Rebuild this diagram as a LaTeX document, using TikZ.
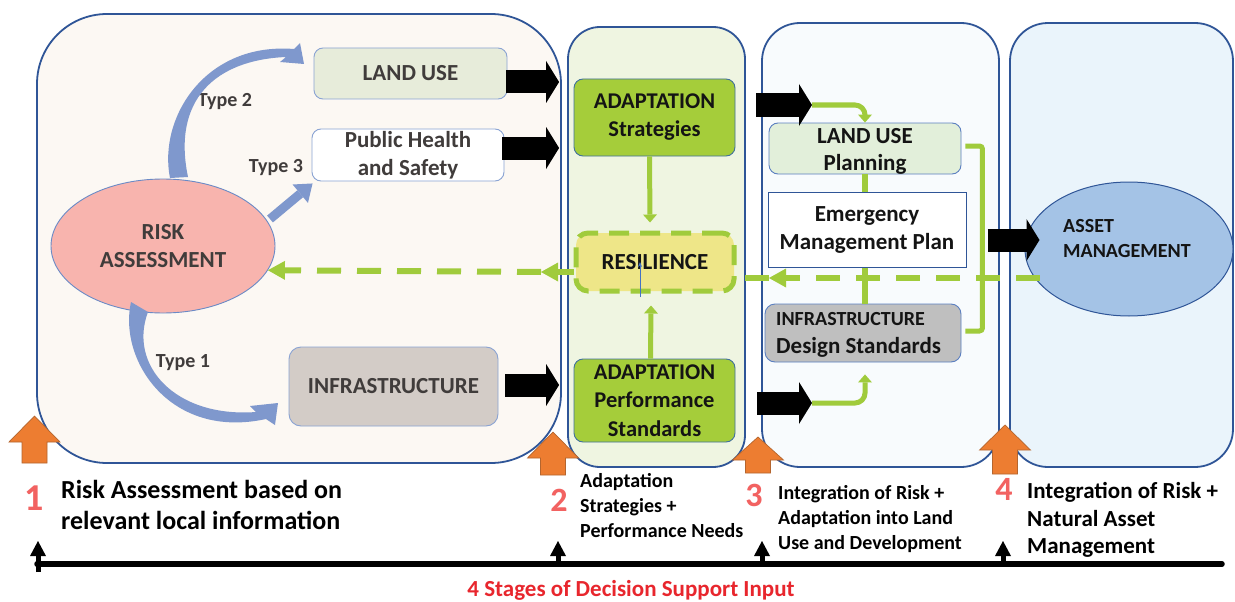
\documentclass[tikz,border=0pt]{standalone}
\usepackage{fontspec}
\setmainfont{Carlito}
\usetikzlibrary{arrows.meta,shapes.geometric,calc}
\definecolor{pborder}{HTML}{2F5597}
\definecolor{p1fill}{HTML}{FCF8F3}
\definecolor{p2fill}{HTML}{EFF5E1}
\definecolor{p3fill}{HTML}{F8FBFD}
\definecolor{p4fill}{HTML}{EAF4FB}
\definecolor{bxline}{HTML}{8AA3D3}
\definecolor{bxline2}{HTML}{5B7FC0}
\definecolor{gbxline}{HTML}{41719C}
\definecolor{lufill}{HTML}{E7ECDA}
\definecolor{infill}{HTML}{D3CCC7}
\definecolor{riskfill}{HTML}{F8B4AE}
\definecolor{riskline}{HTML}{6A8AC6}
\definecolor{gfill}{HTML}{A5CD3A}
\definecolor{gline}{HTML}{A0CB3C}
\definecolor{resfill}{HTML}{EEE688}
\definecolor{lupfill}{HTML}{E2EFDA}
\definecolor{idsfill}{HTML}{BFBFBF}
\definecolor{assetfill}{HTML}{A4C3E6}
\definecolor{orng}{HTML}{ED7D31}
\definecolor{orngline}{HTML}{B4652E}
\definecolor{numred}{HTML}{F26261}
\definecolor{titred}{HTML}{E8262D}
\definecolor{txtgray}{HTML}{403C3B}
\definecolor{txtdark}{HTML}{141414}
\definecolor{curveblue}{HTML}{7F98CD}
\definecolor{cursorblue}{HTML}{4472C4}
\newcommand\uparr[4]{\filldraw[orangearr] (#1-25.5,#3) -- (#1,#2) -- (#1+25.5,#3) -- (#1+12.5,#3) -- (#1+12.5,#4) -- (#1-12.5,#4) -- (#1-12.5,#3) -- cycle;}
\begin{document}
\begin{tikzpicture}[x=1pt,y=-1pt]
\tikzset{
  fs/.style n args={2}{font=\bfseries\fontsize{#1pt}{#2pt}\selectfont},
  panel/.style={draw=pborder, line width=1.8pt, inner sep=0pt},
  sbox/.style={draw=bxline, line width=0.9pt, rounded corners=9pt, inner sep=0pt, align=center},
  txt/.style={inner sep=0pt, align=center},
  grn/.style={draw=gline, line width=5pt},
  gtip/.style={-{Triangle[length=8pt,width=14pt,line width=0pt]}},
  dsh/.style={draw=gline, line width=6pt, dash pattern=on 24pt off 16pt},
  dtip/.style={-{Triangle[length=17pt,width=19pt,line width=0pt]}},
  blk/.style={draw=black, line width=23pt, -{Triangle[length=13pt,width=42pt,line width=0pt]}},
  orangearr/.style={fill=orng, draw=orngline, line width=0.7pt},
  tick/.style={draw=black, line width=5pt, -{Triangle[length=15pt,width=16pt,line width=0pt]}},
  cursorline/.style={draw=cursorblue, line width=1pt, -{Stealth[length=5pt,width=4pt]}}
}
\useasboundingbox (0,0) rectangle (1235,602);
\fill[white] (0,0) rectangle (1235,602);

% panels
\node[panel, fill=p1fill, rounded corners=70pt, minimum width=524pt, minimum height=449pt] (P1) at (299,238.5) {};
\node[panel, fill=p2fill, rounded corners=32pt, minimum width=177pt, minimum height=440pt] (P2) at (656.5,247) {};
\node[panel, fill=p3fill, rounded corners=38pt, minimum width=237pt, minimum height=444pt] (P3) at (880.5,245) {};
\node[panel, fill=p4fill, rounded corners=38pt, minimum width=223pt, minimum height=444pt] (P4) at (1121.5,245) {};

% panel 1 content
\node[sbox, fill=lufill, text=txtgray, fs={23}{28}, minimum width=193pt, minimum height=51pt] (LU) at (410.5,73.5) {LAND USE};
\node[sbox, fill=white, text=txtgray, fs={23}{28}, minimum width=192pt, minimum height=52pt] (PHS) at (408,155) {Public Health\\and Safety};
\node[ellipse, draw=riskline, line width=0.9pt, fill=riskfill, text=txtgray, fs={23}{28}, align=center, minimum width=224pt, minimum height=134pt, inner sep=0pt] (RISK) at (163,246) {RISK\\ASSESSMENT};
\node[sbox, fill=infill, rounded corners=12pt, text=txtgray, fs={23}{28}, minimum width=209pt, minimum height=79pt] (INF) at (393.5,386.5) {INFRASTRUCTURE};

\node[txt, fs={20}{24}, text=txtgray] (T2) at (225,102) {Type 2};
\node[txt, fs={20}{24}, text=txtgray] (T3) at (276,168) {Type 3};
\node[txt, fs={20}{24}, text=txtgray] (T1) at (183,363) {Type 1};

% curved blue arrows
\fill[curveblue] (170,178) .. controls (158,118) and (205,42) .. (294,49) -- (300,43) -- (304,64) -- (280,62) -- (286,57) .. controls (215,60) and (172,100) .. (188,177) -- cycle;
\fill[curveblue] (131,302) .. controls (118,360) and (170,440) .. (266,419) -- (275,425) -- (278,403) -- (250,406) -- (256,412) .. controls (175,418) and (128,365) .. (148,312) -- cycle;
\draw[curveblue, line width=9pt, -{Triangle[length=16pt,width=24pt,line width=0pt]}] (270,219) -- ($(PHS.south west)+(1,2)$);

% panel 2 content
\node[sbox, draw=gbxline, fill=gfill, text=txtdark, fs={22.5}{28}, minimum width=161pt, minimum height=77pt] (AS) at (654.5,117.5) {ADAPTATION\\Strategies};
\node[draw=gline, dash pattern=on 20pt off 11pt, line width=5pt, fill=resfill, rounded corners=12pt, minimum width=158pt, minimum height=58pt, inner sep=0pt, fs={23}{28}, text=txtdark] (RES) at (655,262) {RESILIENCE};
\node[sbox, draw=gbxline, fill=gfill, text=txtdark, fs={22.5}{28.5}, minimum width=161pt, minimum height=83pt] (AP) at (654.5,400.5) {ADAPTATION\\Performance\\Standards};
\draw[grn, gtip] ($(AS.south)+(-5,0)$) -- ($(RES.north)+(-5,-8)$);
\draw[grn, gtip] ($(AP.north)+(-4,0)$) -- ($(RES.south)+(-4,12)$);
\draw[cursorline] ($(RES.center)+(-15,35)$) -- ($(RES.center)+(-15,0)$);

% panel 3 content
\node[sbox, draw=bxline2, fill=lupfill, minimum width=192pt, minimum height=51pt] (LUP) at (865,148.5) {};
\node[txt, fs={23}{27}, text=txtdark] (LUPt) at (865,151.5) {LAND USE\\Planning};
\node[draw=pborder, line width=1pt, fill=white, minimum width=198pt, minimum height=75pt, inner sep=0pt, align=center, fs={23}{28}, text=txtdark] (EMP) at (867,229.5) {Emergency\\Management Plan};
\node[sbox, draw=bxline2, fill=idsfill, rounded corners=10pt, minimum width=196pt, minimum height=58pt] (IDS) at (863,333) {};
\node[txt, anchor=west, align=left, fs={23}{28}, text=txtdark] (IDSt) at (776,334.5) {{\fontsize{20pt}{24pt}\selectfont INFRASTRUCTURE}\\Design Standards};

% panel 4 content
\node[ellipse, draw=pborder, line width=1pt, fill=assetfill, minimum width=208pt, minimum height=134pt, inner sep=0pt] (AM) at (1129,249) {};
\node[txt, anchor=west, align=left, fs={20}{25}, text=txtdark] (AMt) at (1063,239) {ASSET\\MANAGEMENT};

% green connectors in panel 3
\coordinate (c1) at (812,105);
\coordinate (c2) at (812,403);
\draw[grn, gtip, rounded corners=10pt] (c1) -- (c1 -| LUP.north) -- (LUP.north);
\draw[grn, line width=6pt] (LUP.south) -- (LUP.south |- EMP.north);
\draw[grn, line width=6pt] (LUP.south |- EMP.south) -- (LUP.south |- IDS.north);
\draw[grn, gtip, rounded corners=10pt] (c2) -- (c2 -| LUP.south) -- ($(LUP.south |- IDS.south)+(0,12)$);
\draw[grn, rounded corners=3pt] ($(LUP.east)+(4,-2.5)$) -- ($(LUP.east)+(21,-2.5)$) -- ($(IDS.east)+(21,-2)$) -- ($(IDS.east)+(4,-2)$);

% dashed feedback connectors
\coordinate (dA) at (541,272);
\coordinate (dC) at (769,278);
\draw[dsh, dtip] (RES.west |- dA) -- (dA);
\draw[dsh, dtip] (dA) -- (RISK.-13);
\draw[dsh, dtip] ($(AM.west |- dC)+(15,0)$) -- (dC);
\draw[dsh] (dC) -- (RES.east |- dC);

% black block arrows
\draw[blk] ($(LU.east)+(-1,8.5)$) -- ($(P2.west |- LU.east)+(-8,8.5)$);
\draw[blk] ($(PHS.east)+(-2,-7)$) -- ($(P2.west |- PHS.east)+(-8,-7)$);
\draw[blk] ($(INF.east)+(7,-1.5)$) -- ($(P2.west |- INF.east)+(-8,-1.5)$);
\draw[blk] ($(P3.west |- c1)+(-5,0)$) -- (c1);
\draw[blk] ($(P3.west |- c2)+(-4,0)$) -- (c2);
\draw[blk] ($(EMP.east)+(21,10.5)$) -- ($(AM.west)+(15,-9)$);

% orange stage arrows
\uparr{34.5}{416}{442}{463}
\uparr{553}{432}{458}{475}
\uparr{758}{437}{460}{473}
\uparr{1005}{425}{450}{474}

% timeline
\draw[line width=5.5pt, line cap=round] (37,564) -- (1222,564);
\coordinate (t1) at (38,541);
\coordinate (t2) at (558,541);
\coordinate (t3) at (762,541);
\coordinate (t4) at (1003,541);
\draw[tick] (38,572) -- (t1);
\draw[tick] (558,564) -- (t2);
\draw[tick] (762,564) -- (t3);
\draw[tick] (1003,564) -- (t4);

% stage labels
\node[txt, fs={38}{38}, text=numred] (n1) at (34.5,498) {1};
\node[txt, fs={34}{34}, text=numred] (n2) at (559,500) {2};
\node[txt, fs={34}{34}, text=numred] (n3) at (754,495) {3};
\node[txt, fs={34}{34}, text=numred] (n4) at (1004,489) {4};
\node[txt, anchor=west, align=left, fs={26}{31}, text=black] (L1) at (61,505) {Risk Assessment based on\\relevant local information};
\node[txt, anchor=west, align=left, fs={20}{25}, text=black] (L2) at (580,506) {Adaptation\\Strategies +\\Performance Needs};
\node[txt, anchor=west, align=left, fs={20}{25}, text=black] (L3) at (778,519) {Integration of Risk +\\Adaptation into Land\\Use and Development};
\node[txt, anchor=west, align=left, fs={23}{27.5}, text=black] (L4) at (1027,520) {Integration of Risk +\\Natural Asset\\Management};
\node[txt, fs={23}{28}, text=titred] (title) at (631,590) {4 Stages of Decision Support Input};
\end{tikzpicture}
\end{document}
